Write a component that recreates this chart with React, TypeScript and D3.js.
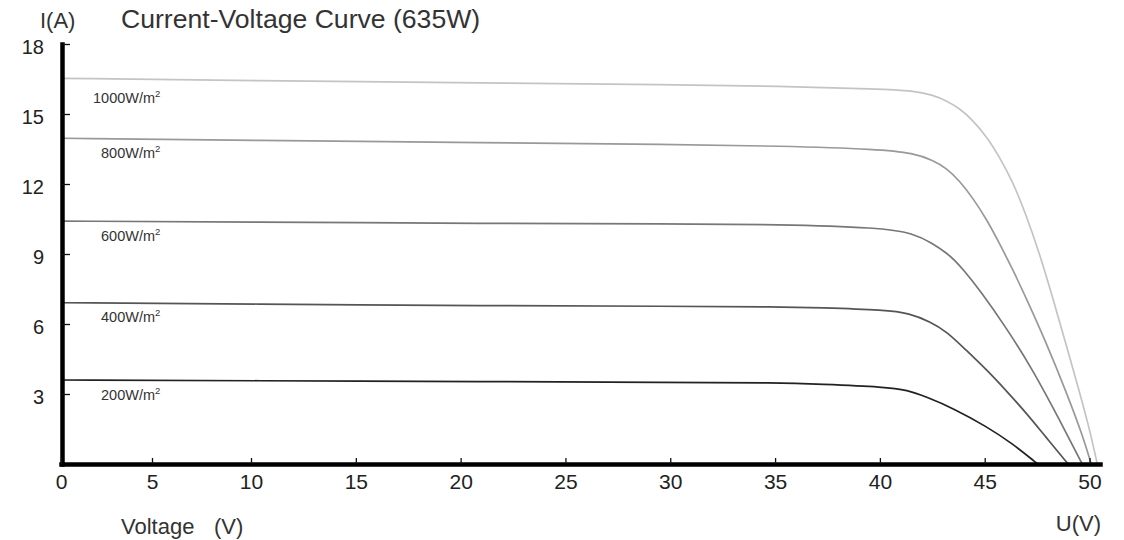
import React, { useRef, useEffect } from 'react';
import * as d3 from 'd3';

// I-V readings [voltage V, current A] per irradiance
const curve1000 = [
  [0, 16.53], [10, 16.43], [21.4, 16.33], [30, 16.25], [35.2, 16.2], [40, 16.07], [41.6, 16.0],
  [42.5, 15.82], [43.2, 15.56], [43.8, 15.24], [44.4, 14.76], [45.1, 14.03], [45.7, 13.17],
  [46.34, 12.09], [46.98, 10.67], [47.62, 9.0], [48.25, 7.11], [48.89, 5.1], [49.52, 3.09],
  [50.0, 1.5], [50.37, 0],
];
const curve800 = [
  [0, 13.96], [10, 13.87], [21.4, 13.77], [30, 13.7], [35.2, 13.63], [40, 13.49], [41.6, 13.32],
  [42.5, 13.03], [43.2, 12.67], [43.8, 12.13], [44.4, 11.44], [45.1, 10.48], [45.7, 9.46],
  [46.34, 8.33], [46.98, 7.11], [47.94, 5.19], [48.89, 3.09], [49.68, 1.2], [50.08, 0],
];
const curve600 = [
  [0, 10.41], [10, 10.37], [21.4, 10.31], [30, 10.29], [35.2, 10.27], [40, 10.13], [41.6, 9.89],
  [42.5, 9.46], [43.2, 9.03], [43.56, 8.74], [44.0, 8.31], [44.76, 7.46], [46.0, 5.88],
  [47.3, 4.03], [48.57, 1.89], [49.65, 0],
];
const curve400 = [
  [0, 6.91], [10, 6.86], [21.4, 6.78], [30, 6.76], [35.2, 6.74], [37.1, 6.7], [40.3, 6.6],
  [41.4, 6.46], [42.4, 6.1], [43.2, 5.67], [44.1, 4.89], [45.1, 4.03], [46.0, 3.17],
  [47.0, 2.17], [47.9, 1.17], [48.98, 0],
];
const curve200 = [
  [0, 3.6], [10, 3.57], [21.4, 3.53], [30, 3.5], [35.2, 3.48], [37.1, 3.42], [40.3, 3.3],
  [41.3, 3.17], [42.2, 2.88], [43.5, 2.39], [45.1, 1.6], [46.3, 0.89], [47.53, 0],
];

const irradiance = ['1000', '800', '600', '400', '200'];
const curves = [curve1000, curve800, curve600, curve400, curve200];
const curveColors = ['#c4c4c4', '#999999', '#777777', '#555555', '#222222'];

const xTicks = [0, 5, 10, 15, 20, 25, 30, 35, 40, 45, 50];
const yTicks = [3, 6, 9, 12, 15, 18];

const font = '"Liberation Sans", Arial, Helvetica, sans-serif';

const App = () => {
  const svgRef = useRef(null);

  useEffect(() => {
    const width = 1124;
    const height = 540;

    const svg = d3.select(svgRef.current)
      .attr('width', width)
      .attr('height', height)
      .style('background', 'white');

    svg.selectAll('*').remove();

    // the original axis is stretched a bit at the start
    const xScale = d3.scaleLinear().domain([0, 5, 10, 50.5]).range([61, 152, 251, 1100]);
    const yScale = d3.scaleLinear().domain([0, 18]).range([464, 44]);

    // curves
    const line = d3.line()
      .x(d => xScale(d[0]))
      .y(d => yScale(d[1]))
      .curve(d3.curveBasis);

    curves.forEach((c, i) => {
      svg.append('path')
        .datum(c)
        .attr('fill', 'none')
        .attr('stroke', curveColors[i])
        .attr('stroke-width', 1.7)
        .attr('d', line);
    });

    // curve labels
    curves.forEach((c, i) => {
      const first = i === 0;
      const t = svg.append('text')
        .attr('x', first ? 93 : 101)
        .attr('y', yScale(c[0][1]) + (first ? 25 : 19.5))
        .attr('fill', '#333')
        .style('font-family', font)
        .style('font-size', '14.5px')
        .text(`${irradiance[i]}W/m`);
      t.append('tspan')
        .attr('dy', -6)
        .style('font-size', '9.5px')
        .text('2');
    });

    // y axis
    const yAxis = d3.axisLeft(yScale)
      .tickValues(yTicks)
      .tickSize(-8)
      .tickSizeOuter(0)
      .tickPadding(18);

    const gy = svg.append('g')
      .attr('transform', 'translate(62,0)')
      .call(yAxis);
    gy.select('.domain').attr('stroke', '#000').attr('stroke-width', 4.5).attr('stroke-linecap', 'square');
    gy.selectAll('.tick line').attr('stroke', '#111').attr('stroke-width', 1.3);
    gy.selectAll('text')
      .attr('fill', '#222')
      .attr('dy', '0.45em')
      .style('font-family', font)
      .style('font-size', '20px');

    // x axis
    const xAxis = d3.axisBottom(xScale)
      .tickValues(xTicks)
      .tickSize(-6)
      .tickSizeOuter(0)
      .tickPadding(10);

    const gx = svg.append('g')
      .attr('transform', 'translate(0,464)')
      .call(xAxis);
    gx.select('.domain').attr('stroke', '#000').attr('stroke-width', 4.5).attr('stroke-linecap', 'square');
    gx.selectAll('.tick line').attr('stroke', '#111').attr('stroke-width', 1.3);
    gx.selectAll('text')
      .attr('fill', '#222')
      .style('font-family', font)
      .style('font-size', '21px');

    // titles
    svg.append('text')
      .attr('x', 40)
      .attr('y', 28)
      .attr('fill', '#333')
      .style('font-family', font)
      .style('font-size', '22px')
      .text('I(A)');

    svg.append('text')
      .attr('x', 121)
      .attr('y', 28)
      .attr('fill', '#333')
      .style('font-family', font)
      .style('font-size', '26.6px')
      .text('Current-Voltage Curve (635W)');

    const vt = svg.append('text')
      .attr('x', 121)
      .attr('y', 534)
      .attr('fill', '#333')
      .style('font-family', font)
      .style('font-size', '22px')
      .text('Voltage');
    vt.append('tspan').attr('x', 214).text('(V)');

    svg.append('text')
      .attr('x', 1101)
      .attr('y', 531)
      .attr('text-anchor', 'end')
      .attr('fill', '#333')
      .style('font-family', font)
      .style('font-size', '22px')
      .text('U(V)');
  }, []);

  return (
    <div style={{ position: 'absolute', left: 0, top: 0, background: 'white' }}>
      <svg ref={svgRef} style={{ display: 'block' }}></svg>
    </div>
  );
};

export default App;
